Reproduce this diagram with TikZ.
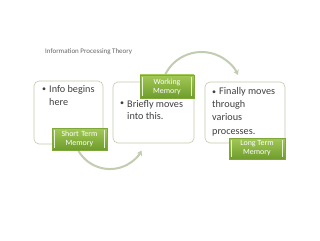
\documentclass[tikz,border=0pt]{standalone}
\usepackage{fontspec}
\setmainfont{Carlito}
\usetikzlibrary{arrows.meta}
\definecolor{boxline}{HTML}{C3CAA8}
\definecolor{txt}{HTML}{404040}
\definecolor{gtop}{HTML}{A3C957}
\definecolor{gbot}{HTML}{6E9C2C}
\definecolor{gedge}{HTML}{7FA83A}
\definecolor{arcc}{HTML}{C2CCB0}
\tikzset{
  card/.style={draw=boxline, line width=0.6pt, fill=white, rounded corners=5pt},
  tag/.style={draw=gedge, line width=0.4pt, top color=gtop, bottom color=gbot, text=white,
     font=\fontsize{7.9}{9.2}\selectfont, align=center, inner sep=0pt},
  body/.style={text=txt, font=\fontsize{10.2}{12.5}\selectfont, align=left, inner sep=0pt, anchor=base west},
  flow/.style={draw=arcc, line width=2pt, -{Stealth[length=5pt,width=6pt]}},
}
\newcommand{\smbul}{{\fontsize{8}{8}\selectfont\textbullet}}
\begin{document}
\begin{tikzpicture}[x=1pt,y=-1pt]
\useasboundingbox (0,0) rectangle (320,240);
\fill[white] (0,0) rectangle (320,240);
% title
\node[anchor=base west, inner sep=0pt, text=black!60, font=\fontsize{7}{8}\selectfont] (title) at (45,54) {Information Processing Theory};
% arcs
\coordinate (a1s) at (78,150);
\coordinate (a2s) at (165,75);
\draw[flow] (a1s) arc[start angle=151.5, end angle=29.5, radius=36.4] coordinate (a1e);
\draw[flow] (a2s) arc[start angle=205.6, end angle=334.4, radius=40.5] coordinate (a2e);
% boxes
\draw[card] (34,81) rectangle (103,144) coordinate (b1);
\draw[card] (113,82) rectangle (194,143) coordinate (b2);
\draw[card] (205,82) rectangle (285,143) coordinate (b3);
% texts
\node[body] (t1a) at (42,92) {\smbul};
\node[body] (t1) at (49,105.5) {Info begins\\here};
\node[body] (t2a) at (120,106) {\smbul};
\node[body] (t2) at (127,119.5) {Briefly moves\\into this.};
\node[body, font=\fontsize{10.2}{13.3}\selectfont] (t3) at (212,134) {\smbul\hspace{3pt}Finally moves\\through\\various\\processes.};
% labels
\node[tag, minimum width=55pt, minimum height=22pt] (stm) at (79.5,139) {Short\hspace{2.5pt}Term\\Memory};
\node[tag, minimum width=54pt, minimum height=23pt] (wm) at (167,86.5) {Working\\Memory};
\node[tag, minimum width=56pt, minimum height=21pt] (ltm) at (257,148.5) {Long Term\\Memory};
\foreach \n in {stm,wm,ltm}{
  \draw[white!75!gtop, line width=0.5pt] ([xshift=2.5pt,yshift=-2pt]\n.north west) -- ([xshift=2.5pt,yshift=2pt]\n.south west);
  \draw[white!75!gtop, line width=0.5pt] ([xshift=-2.5pt,yshift=-2pt]\n.north east) -- ([xshift=-2.5pt,yshift=2pt]\n.south east);
}
\end{tikzpicture}
\end{document}
